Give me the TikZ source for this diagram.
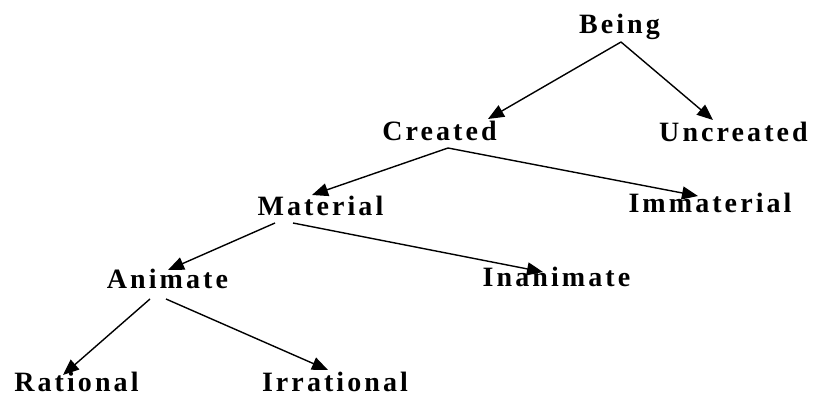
\documentclass[tikz,border=0pt]{standalone}
\usepackage{fontspec}
\setmainfont{Liberation Serif}
\newfontfamily\termfont[LetterSpace=11]{Liberation Serif}
\usetikzlibrary{arrows.meta}
\begin{document}
\begin{tikzpicture}[x=1pt,y=1pt,
  term/.style={inner sep=0pt,anchor=base,font=\termfont\bfseries\fontsize{28}{30}\selectfont},
  link/.style={line width=1.4pt,-{Triangle[length=16pt,width=13pt]}}]
\useasboundingbox (0,0) rectangle (814,-398);

% taxonomy terms, placed by baseline centre
\node[term] (being)      at (619.5,-34)  {Being};
\node[term] (created)    at (439.5,-141) {Created};
\node[term] (uncreated)  at (733.5,-142) {Uncreated};
\node[term] (material)   at (320.5,-216) {Material};
\node[term] (immaterial) at (710,-213)   {Immaterial};
\node[term] (animate)    at (167.5,-288) {Animate};
\node[term] (inanimate)  at (556.5,-287) {Inanimate};
\node[term] (rational)   at (76.5,-391)  {Rational};
\node[term] (irrational) at (335,-391)   {Irrational};

% division arrows
\draw[link] ([shift={(1.5,-8)}]being.base)      -- ([shift={(48.5,22)}]created.base);
\draw[link] ([shift={(1.5,-8)}]being.base)      -- ([shift={(-20.5,22)}]uncreated.base);
\draw[link] ([shift={(8.5,-7)}]created.base)    -- ([shift={(-8.5,21)}]material.base);
\draw[link] ([shift={(8.5,-7)}]created.base)    -- ([shift={(-12,17)}]immaterial.base);
\draw[link] ([shift={(-45.5,-7)}]material.base) -- ([shift={(0.5,18)}]animate.base);
\draw[link] ([shift={(-27.5,-7)}]material.base) -- ([shift={(-13.5,15)}]inanimate.base);
\draw[link] ([shift={(-17.5,-11)}]animate.base) -- ([shift={(-13.5,16)}]rational.base);
\draw[link] ([shift={(-1.5,-11)}]animate.base)  -- ([shift={(-7,21)}]irrational.base);
\end{tikzpicture}
\end{document}
